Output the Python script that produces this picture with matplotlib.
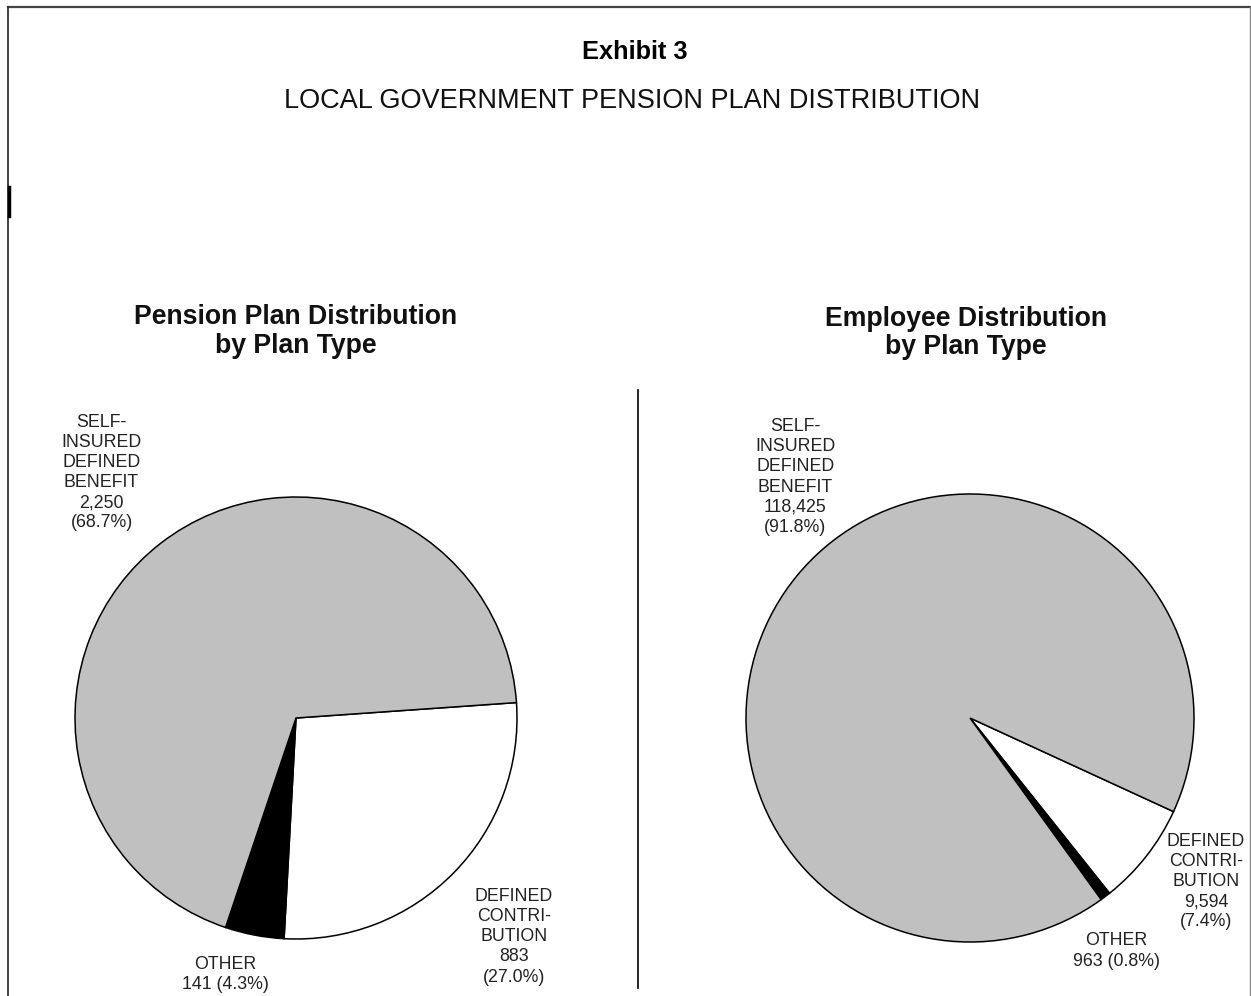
import matplotlib.pyplot as plt
from matplotlib.lines import Line2D

plt.rcParams['font.family'] = ['Liberation Sans', 'DejaVu Sans']

# data
plan_types = ['DEFINED\nCONTRI-\nBUTION', 'OTHER', 'SELF-\nINSURED\nDEFINED\nBENEFIT']
plan_counts = [883, 141, 2250]
plan_pcts = [27.0, 4.3, 68.7]
emp_counts = [9594, 963, 118425]
emp_pcts = [7.4, 0.8, 91.8]
slice_colors = ['white', 'black', '#c0c0c0']

W, H = 1251, 996
fig = plt.figure(figsize=(W / 100, H / 100), dpi=100)


def pix_axes(cx, cy, r):
    # axes square around a pie centred at pixel (cx, cy) with radius r
    return fig.add_axes([(cx - r) / W, (H - cy - r) / H, 2 * r / W, 2 * r / H])


def draw_pie(ax, counts, start, label_pos):
    ax.pie(counts, colors=slice_colors, startangle=start, counterclock=False,
           radius=1.0, wedgeprops=dict(edgecolor='black', linewidth=1.1))
    ax.set_xlim(-1, 1)
    ax.set_ylim(-1, 1)
    ax.set_aspect('auto')
    ax.axis('off')
    for txt, (x, y) in zip(label_pos[0], label_pos[1]):
        ax.text(x, y, txt, ha='center', va='center', fontsize=12.8,
                color='#222222', linespacing=1.24, clip_on=False)


def lab(name, count, pct, split):
    c = f'{count:,}'
    if split:
        return f'{name}\n{c}\n({pct:.1f}%)'
    return f'{name}\n{c} ({pct:.1f}%)'


# left pie
ax1 = pix_axes(296, 718, 221)
labels1 = [lab(plan_types[0], plan_counts[0], plan_pcts[0], True),
           lab(plan_types[1], plan_counts[1], plan_pcts[1], False),
           lab(plan_types[2], plan_counts[2], plan_pcts[2], True)]
draw_pie(ax1, plan_counts, 4, (labels1, [(0.986, -0.99), (-0.32, -1.16), (-0.88, 1.11)]))

# right pie
ax2 = pix_axes(970, 718, 224)
labels2 = [lab(plan_types[0], emp_counts[0], emp_pcts[0], True),
           lab(plan_types[1], emp_counts[1], emp_pcts[1], False),
           lab(plan_types[2], emp_counts[2], emp_pcts[2], True)]
draw_pie(ax2, emp_counts, -24.7, (labels2, [(1.054, -0.73), (0.652, -1.04), (-0.78, 1.076)]))

# titles
fig.text(635 / W, 1 - 52 / H, 'Exhibit 3', ha='center', va='center',
         fontsize=18.3, fontweight='bold')
fig.text(632 / W, 1 - 101 / H, 'LOCAL GOVERNMENT PENSION PLAN DISTRIBUTION',
         ha='center', va='center', fontsize=19.5, color='#111111')
fig.text(296 / W, 1 - 331 / H, 'Pension Plan Distribution\nby Plan Type',
         ha='center', va='center', fontsize=19.2, fontweight='bold',
         linespacing=1.15, color='#111111')
fig.text(966 / W, 1 - 333 / H, 'Employee Distribution\nby Plan Type',
         ha='center', va='center', fontsize=19.2, fontweight='bold',
         linespacing=1.15, color='#111111')

# divider and page frame
fig.add_artist(Line2D([638 / W, 638 / W], [1 - 390 / H, 1 - 988 / H], color='black', lw=1.2))
fig.add_artist(Line2D([8 / W, 1250 / W], [1 - 7 / H, 1 - 7 / H], color='#444444', lw=1.6))
fig.add_artist(Line2D([8 / W, 8 / W], [1 - 7 / H, 0], color='#333333', lw=1.3))
fig.add_artist(Line2D([1250 / W, 1250 / W], [1 - 7 / H, 0], color='#888888', lw=1.0))
fig.add_artist(Line2D([9 / W, 9 / W], [1 - 187 / H, 1 - 216 / H], color='black', lw=2.5))

fig.savefig('out.png', dpi=100, facecolor='white')
